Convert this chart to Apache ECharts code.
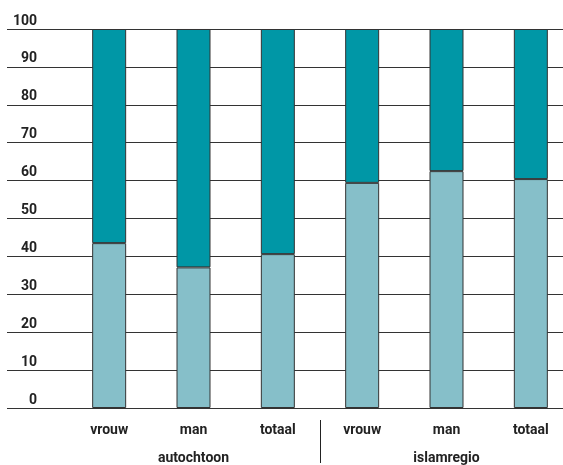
<!DOCTYPE html>
<html><head><meta charset="utf-8">
<script src="https://cdn.jsdelivr.net/npm/echarts@6/dist/echarts.min.js"></script>
<style>html,body{margin:0;padding:0;background:#fff}#c{width:563px;height:465px}</style>
</head><body><div id="c"></div>
<script>
const categories = ['vrouw','man','totaal','vrouw','man','totaal'];
const groups = ['autochtoon','islamregio'];
const lowerValues = [43.5, 37.1, 40.6, 59.4, 62.5, 60.4];
const upperValues = [56.5, 62.9, 59.4, 40.6, 37.5, 39.6];
const yTicks = [0,10,20,30,40,50,60,70,80,90,100];

const font = 'Roboto, "Liberation Sans", sans-serif';
const chart = echarts.init(document.getElementById('c'), null, {renderer:'canvas'});
chart.setOption({
  animation:false,
  backgroundColor:'#fff',
  grid:[
    {left:7, right:0, top:29, bottom:57, outerBoundsMode:'none'},
    {left:67, width:506, top:29, bottom:57, outerBoundsMode:'none'},
    {left:67, width:506, top:420, height:43, outerBoundsMode:'none'}
  ],
  xAxis:[
    {gridIndex:0, type:'value', min:0, max:1, show:false},
    {gridIndex:1, type:'category', data:categories, position:'bottom',
      axisLine:{show:false}, axisTick:{show:false},
      axisLabel:{margin:15, color:'#222', fontWeight:'bold', fontSize:14, fontFamily:font}},
    {gridIndex:1, type:'category', data:groups, position:'bottom',
      axisLine:{show:false}, axisTick:{show:false},
      axisLabel:{margin:43, color:'#222', fontWeight:'bold', fontSize:14, fontFamily:font}},
    {gridIndex:2, type:'category', data:groups, position:'bottom',
      axisLine:{show:false}, axisTick:{show:false}, axisLabel:{show:false},
      splitLine:{show:true, lineStyle:{color:['rgba(0,0,0,0)','#222'], width:1}}}
  ],
  yAxis:[
    {gridIndex:0, type:'value', min:0, max:100, interval:10,
      axisLine:{show:false}, axisTick:{show:false},
      splitLine:{show:true, lineStyle:{color:'#333', width:1}},
      axisLabel:{margin:-30, align:'right', verticalAlign:'bottom', padding:[0,0,1,0],
        color:'#222', fontWeight:'bold', fontSize:14, fontFamily:font,
        formatter:function(v){return yTicks.indexOf(v)>=0?String(v):'';}}},
    {gridIndex:1, type:'value', min:0, max:100, interval:10, show:false, splitLine:{show:false}},
    {gridIndex:2, type:'value', min:0, max:1, show:false, splitLine:{show:false}}
  ],
  series:[
    {type:'bar', xAxisIndex:1, yAxisIndex:1, stack:'s', data:lowerValues, barWidth:34,
      itemStyle:{color:'#86bfc9', borderColor:'#333', borderWidth:1}},
    {type:'bar', xAxisIndex:1, yAxisIndex:1, stack:'s', data:upperValues, barWidth:34,
      itemStyle:{color:'#0097a6', borderColor:'#333', borderWidth:1}}
  ]
});
</script></body></html>
